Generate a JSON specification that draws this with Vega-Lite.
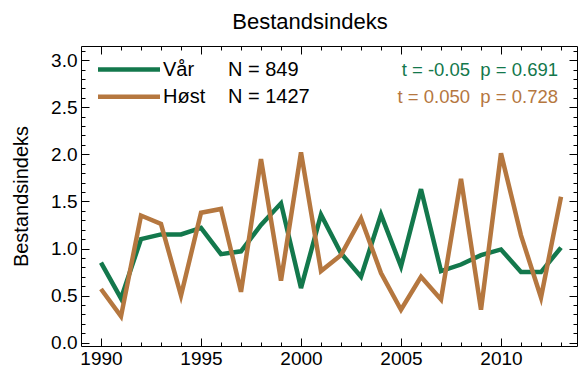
{
  "$schema": "https://vega.github.io/schema/vega-lite/v6.json",
  "width": 496,
  "height": 300,
  "autosize": "none",
  "padding": {"left": 81, "top": 46, "right": 2, "bottom": 32},
  "background": "white",
  "config": {
    "font": "Liberation Sans",
    "view": {"stroke": "black", "strokeWidth": 1},
    "axis": {"grid": false, "domainColor": "black", "tickColor": "black", "labelColor": "black", "titleColor": "black", "labelFont": "Liberation Sans", "titleFont": "Liberation Sans", "titleFontWeight": "normal"}
  },
  "title": {"text": "Bestandsindeks", "fontSize": 22, "fontWeight": "normal", "font": "Liberation Sans", "color": "black", "dx": -19, "offset": 12},
  "datasets": {
    "idx": [
      {"year": 1990, "series": "Vår", "value": 0.85},
      {"year": 1991, "series": "Vår", "value": 0.47},
      {"year": 1992, "series": "Vår", "value": 1.10},
      {"year": 1993, "series": "Vår", "value": 1.15},
      {"year": 1994, "series": "Vår", "value": 1.15},
      {"year": 1995, "series": "Vår", "value": 1.22},
      {"year": 1996, "series": "Vår", "value": 0.94},
      {"year": 1997, "series": "Vår", "value": 0.97},
      {"year": 1998, "series": "Vår", "value": 1.25},
      {"year": 1999, "series": "Vår", "value": 1.48},
      {"year": 2000, "series": "Vår", "value": 0.58},
      {"year": 2001, "series": "Vår", "value": 1.36},
      {"year": 2002, "series": "Vår", "value": 0.95},
      {"year": 2003, "series": "Vår", "value": 0.70},
      {"year": 2004, "series": "Vår", "value": 1.36},
      {"year": 2005, "series": "Vår", "value": 0.81},
      {"year": 2006, "series": "Vår", "value": 1.63},
      {"year": 2007, "series": "Vår", "value": 0.76},
      {"year": 2008, "series": "Vår", "value": 0.83},
      {"year": 2009, "series": "Vår", "value": 0.93},
      {"year": 2010, "series": "Vår", "value": 0.99},
      {"year": 2011, "series": "Vår", "value": 0.75},
      {"year": 2012, "series": "Vår", "value": 0.75},
      {"year": 2013, "series": "Vår", "value": 1.01},
      {"year": 1990, "series": "Høst", "value": 0.57},
      {"year": 1991, "series": "Høst", "value": 0.28},
      {"year": 1992, "series": "Høst", "value": 1.35},
      {"year": 1993, "series": "Høst", "value": 1.26},
      {"year": 1994, "series": "Høst", "value": 0.50},
      {"year": 1995, "series": "Høst", "value": 1.38},
      {"year": 1996, "series": "Høst", "value": 1.42},
      {"year": 1997, "series": "Høst", "value": 0.54},
      {"year": 1998, "series": "Høst", "value": 1.95},
      {"year": 1999, "series": "Høst", "value": 0.66},
      {"year": 2000, "series": "Høst", "value": 2.02},
      {"year": 2001, "series": "Høst", "value": 0.76},
      {"year": 2002, "series": "Høst", "value": 0.93},
      {"year": 2003, "series": "Høst", "value": 1.32},
      {"year": 2004, "series": "Høst", "value": 0.74},
      {"year": 2005, "series": "Høst", "value": 0.35},
      {"year": 2006, "series": "Høst", "value": 0.70},
      {"year": 2007, "series": "Høst", "value": 0.46},
      {"year": 2008, "series": "Høst", "value": 1.74},
      {"year": 2009, "series": "Høst", "value": 0.35},
      {"year": 2010, "series": "Høst", "value": 2.01},
      {"year": 2011, "series": "Høst", "value": 1.14},
      {"year": 2012, "series": "Høst", "value": 0.48},
      {"year": 2013, "series": "Høst", "value": 1.55}
    ],
    "legend": [
      {"series": "Vår", "n": "N = 849", "stat": "t = -0.05\u00a0\u00a0p = 0.691", "row": 2.9},
      {"series": "Høst", "n": "N = 1427", "stat": "t = 0.050\u00a0\u00a0p = 0.728", "row": 2.61}
    ]
  },
  "resolve": {"axis": {"x": "independent", "y": "independent"}},
  "layer": [
    {
      "mark": {"type": "rule", "color": "#444444", "strokeWidth": 1},
      "encoding": {
        "x": {"datum": 1989, "type": "quantitative", "scale": {"domain": [1989, 2013.8], "nice": false, "zero": false},
              "axis": {"orient": "top", "values": [1990,1991,1992,1993,1994,1995,1996,1997,1998,1999,2000,2001,2002,2003,2004,2005,2006,2007,2008,2009,2010,2011,2012,2013], "labels": false, "title": null, "domain": false,
                       "tickSize": {"condition": {"test": "datum.value % 5 === 0", "value": -8}, "value": -4}}},
        "x2": {"datum": 2013.8},
        "y": {"datum": 1, "type": "quantitative", "scale": {"domain": [-0.035, 3.15], "nice": false, "zero": false},
              "axis": {"orient": "right", "values": [0,0.1,0.2,0.3,0.4,0.5,0.6,0.7,0.8,0.9,1,1.1,1.2,1.3,1.4,1.5,1.6,1.7,1.8,1.9,2,2.1,2.2,2.3,2.4,2.5,2.6,2.7,2.8,2.9,3,3.1], "labels": false, "title": null, "domain": false,
                       "tickSize": {"condition": {"test": "round(datum.value*10) % 5 === 0", "value": -8}, "value": -4}}}
      }
    },
    {
      "data": {"name": "idx"},
      "mark": {"type": "line", "strokeWidth": 4.5, "strokeJoin": "miter"},
      "encoding": {
        "x": {"field": "year", "type": "quantitative",
              "axis": {"orient": "bottom", "values": [1990,1991,1992,1993,1994,1995,1996,1997,1998,1999,2000,2001,2002,2003,2004,2005,2006,2007,2008,2009,2010,2011,2012,2013], "title": null, "domain": false,
                       "labelExpr": "datum.value % 5 === 0 ? datum.label : ''", "format": "d", "labelFontSize": 19, "labelPadding": 11,
                       "tickSize": {"condition": {"test": "datum.value % 5 === 0", "value": -8}, "value": -4}}},
        "y": {"field": "value", "type": "quantitative",
              "axis": {"orient": "left", "values": [0,0.1,0.2,0.3,0.4,0.5,0.6,0.7,0.8,0.9,1,1.1,1.2,1.3,1.4,1.5,1.6,1.7,1.8,1.9,2,2.1,2.2,2.3,2.4,2.5,2.6,2.7,2.8,2.9,3,3.1], "title": "Bestandsindeks", "titleFontSize": 20, "titlePadding": 19, "domain": false,
                       "labelExpr": "round(datum.value*10) % 5 === 0 ? format(datum.value, '.1f') : ''", "labelFontSize": 19, "labelPadding": 12,
                       "tickSize": {"condition": {"test": "round(datum.value*10) % 5 === 0", "value": -8}, "value": -4}}},
        "color": {"field": "series", "type": "nominal", "scale": {"domain": ["Vår", "Høst"], "range": ["#13784c", "#b5773f"]}, "legend": null}
      }
    },
    {
      "data": {"name": "legend"},
      "mark": {"type": "rule", "strokeWidth": 4.5},
      "encoding": {
        "x": {"datum": 1989.85, "type": "quantitative", "axis": null},
        "x2": {"datum": 1992.95},
        "y": {"field": "row", "type": "quantitative", "axis": null},
        "color": {"field": "series", "type": "nominal", "legend": null}
      }
    },
    {
      "data": {"name": "legend"},
      "mark": {"type": "text", "align": "left", "baseline": "middle", "fontSize": 20, "color": "black"},
      "encoding": {
        "x": {"datum": 1993.1, "type": "quantitative", "axis": null},
        "y": {"field": "row", "type": "quantitative", "axis": null},
        "text": {"field": "series"}
      }
    },
    {
      "data": {"name": "legend"},
      "mark": {"type": "text", "align": "left", "baseline": "middle", "fontSize": 20, "color": "black"},
      "encoding": {
        "x": {"datum": 1996.35, "type": "quantitative", "axis": null},
        "y": {"field": "row", "type": "quantitative", "axis": null},
        "text": {"field": "n"}
      }
    },
    {
      "data": {"name": "legend"},
      "mark": {"type": "text", "align": "right", "baseline": "middle", "fontSize": 18.5},
      "encoding": {
        "x": {"datum": 2012.85, "type": "quantitative", "axis": null},
        "y": {"field": "row", "type": "quantitative", "axis": null},
        "text": {"field": "stat"},
        "color": {"field": "series", "type": "nominal", "legend": null}
      }
    }
  ]
}
